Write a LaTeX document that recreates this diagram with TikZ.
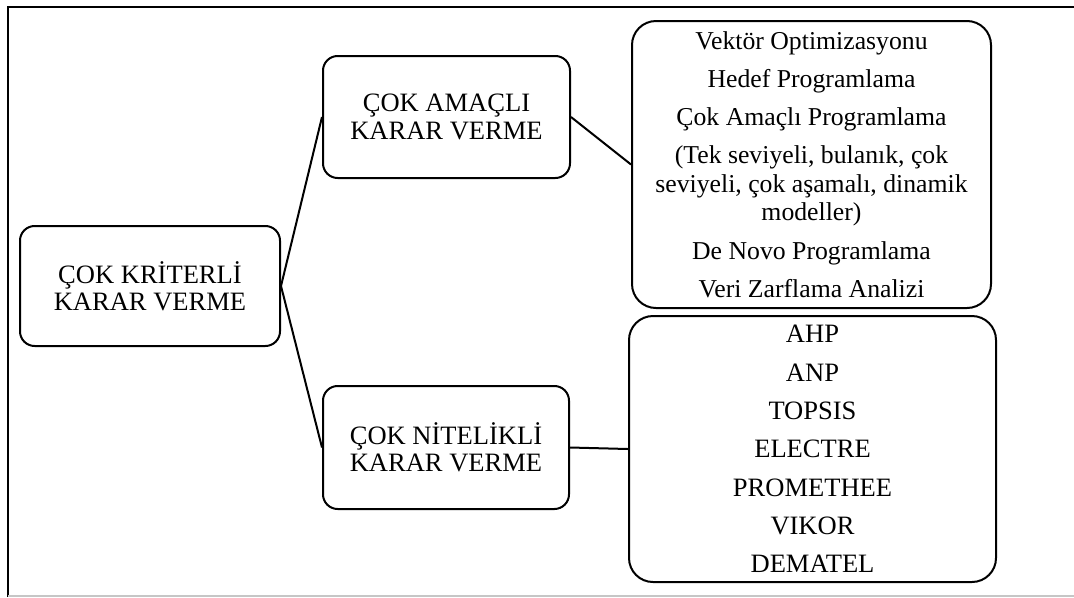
\documentclass[tikz,border=0pt]{standalone}
\usepackage{fontspec}
\setmainfont{Liberation Serif}
\newfontfamily\serifface{Liberation Serif}
\newcommand\boxfont{\serifface\fontsize{19.9pt}{20.6pt}\selectfont}
\newcommand\listfont{\serifface\fontsize{19.3pt}{21.4pt}\selectfont}
\newcommand\methodfont{\serifface\fontsize{19.9pt}{28.7pt}\selectfont}
\begin{document}
\begin{tikzpicture}[x=0.75pt,y=-0.75pt,
  box/.style={draw=black, line width=1.5pt, rectangle, inner sep=0pt,
    align=center, text=black},
  smallbox/.style={box, rounded corners=11pt},
  listbox/.style={box, rounded corners=18pt},
  link/.style={draw=black, line width=1.5pt}]
  \useasboundingbox (0,0) rectangle (1074,597);
  % page frame
  \draw[line width=1.3pt] (8,597) -- (8,7) -- (1074,7);
  \draw[gray!45, line width=1pt] (8,596) -- (1074,596);

  % main concept
  \node[smallbox, font=\boxfont, minimum width=260*0.75pt, minimum height=120*0.75pt]
    (root) at (150,286) {ÇOK KRİTERLİ\\KARAR VERME};

  % two branches
  \node[smallbox, font=\boxfont, minimum width=247*0.75pt, minimum height=122*0.75pt]
    (moo) at (446.5,117) {ÇOK AMAÇLI\\KARAR VERME};
  \node[smallbox, font=\boxfont, minimum width=246*0.75pt, minimum height=123*0.75pt]
    (mad) at (446,447.5) {ÇOK NİTELİKLİ\\KARAR VERME};

  % method lists
  \node[listbox, minimum width=359*0.75pt, minimum height=287*0.75pt,
    font=\listfont]
    (moolist) at (811.5,164.5)
    {Vektör Optimizasyonu\\[7.3pt]
     Hedef Programlama\\[7.3pt]
     Çok Amaçlı Programlama\\[7.3pt]
     (Tek seviyeli, bulanık, çok\\
     seviyeli, çok aşamalı, dinamik\\
     modeller)\\[7.3pt]
     De Novo Programlama\\[7.3pt]
     Veri Zarflama Analizi};
  \node[listbox, minimum width=367*0.75pt, minimum height=266*0.75pt,
    font=\methodfont]
    (madlist) at (812.5,449)
    {AHP\\ANP\\TOPSIS\\ELECTRE\\PROMETHEE\\VIKOR\\DEMATEL};

  % connectors
  \draw[link] (root.east) -- (moo.west);
  \draw[link] (root.east) -- (mad.west);
  \draw[link] (moo.east) -- (moolist.west);
  \draw[link] (mad.east) -- (madlist.west);
\end{tikzpicture}
\end{document}
